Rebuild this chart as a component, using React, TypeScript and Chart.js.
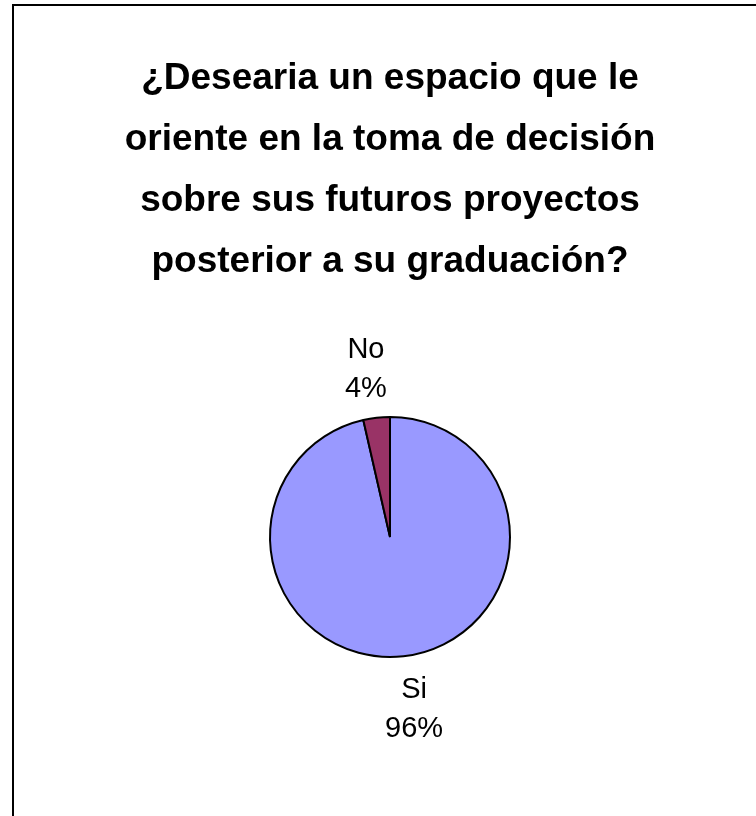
import React, { useEffect, useRef } from "react";
import { Chart, registerables } from "chart.js";

Chart.register(...registerables);

const TITLE_LINES = [
  "¿Desearia un espacio que le",
  "oriente en la toma de decisión",
  "sobre sus futuros proyectos",
  "posterior a su graduación?",
];
const CATEGORIES = ["Si", "No"];
const VALUES = [27, 1];
const COLORS = ["#9999FF", "#993366"];

const FONT = "'Liberation Sans', Arial, sans-serif";

const framePlugin = {
  id: "frame",
  beforeDraw(chart: any) {
    const ctx = chart.ctx;
    ctx.save();
    ctx.fillStyle = "#ffffff";
    ctx.fillRect(0, 0, chart.width, chart.height);
    ctx.fillStyle = "#000000";
    ctx.fillRect(12, 4, chart.width - 12, 2);
    ctx.fillRect(12, 4, 2, chart.height - 4);
    ctx.restore();
  },
};

const titlePlugin = {
  id: "customTitle",
  afterDraw(chart: any) {
    const ctx = chart.ctx;
    ctx.save();
    ctx.fillStyle = "#000";
    ctx.font = `bold 37px ${FONT}`;
    ctx.textAlign = "center";
    ctx.textBaseline = "alphabetic";
    TITLE_LINES.forEach((t, i) => {
      ctx.fillText(t, 390, 89 + i * 61);
    });
    ctx.restore();
  },
};

const labelPlugin = {
  id: "pieLabels",
  afterDraw(chart: any) {
    const ctx = chart.ctx;
    const meta = chart.getDatasetMeta(0);
    const data = chart.data.datasets[0].data as number[];
    const total = data.reduce((a, b) => a + b, 0);
    ctx.save();
    ctx.fillStyle = "#000";
    ctx.font = `29px ${FONT}`;
    ctx.textAlign = "center";
    const lh = 39;
    meta.data.forEach((arc: any, i: number) => {
      const { x, y, startAngle, endAngle, outerRadius } = arc.getProps(
        ["x", "y", "startAngle", "endAngle", "outerRadius"],
        true
      );
      const mid = (startAngle + endAngle) / 2;
      const dx = Math.cos(mid);
      const dy = Math.sin(mid);
      const lx = x + dx * (outerRadius + 95);
      const edgeY = y + dy * (outerRadius + 21);
      const lines = [
        String(chart.data.labels[i]),
        Math.round((data[i] / total) * 100) + "%",
      ];
      ctx.textBaseline = "alphabetic";
      if (dy < 0) {
        ctx.fillText(lines[1], lx, edgeY);
        ctx.fillText(lines[0], lx, edgeY - lh);
      } else {
        ctx.fillText(lines[0], lx, edgeY + 21);
        ctx.fillText(lines[1], lx, edgeY + 21 + lh);
      }
    });
    ctx.restore();
  },
};

export default function App() {
  const ref = useRef<HTMLCanvasElement | null>(null);
  useEffect(() => {
    if (!ref.current) return;
    const chart = new Chart(ref.current, {
      type: "pie",
      data: {
        labels: CATEGORIES,
        datasets: [
          {
            data: VALUES,
            backgroundColor: COLORS,
            borderColor: "#000000",
            borderWidth: 2,
          },
        ],
      },
      options: {
        animation: false,
        responsive: false,
        radius: 120,
        layout: { padding: { left: 24, right: 0, top: 258, bottom: 0 } },
        plugins: {
          legend: { display: false },
          title: { display: false },
          tooltip: { enabled: false },
        },
      } as any,
      plugins: [framePlugin, titlePlugin, labelPlugin],
    });
    return () => chart.destroy();
  }, []);
  return (
    <div style={{ position: "absolute", left: 0, top: 0, width: 756, height: 816, overflow: "hidden" }}>
      <canvas ref={ref} width={756} height={816} style={{ display: "block", width: 756, height: 816 }} />
    </div>
  );
}
